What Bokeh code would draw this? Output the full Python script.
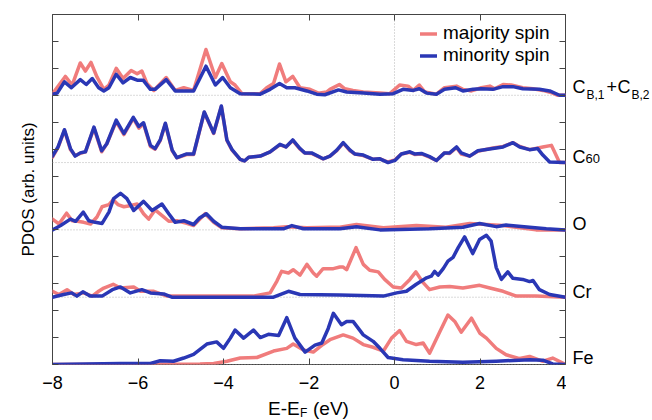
from bokeh.plotting import figure
from bokeh.layouts import row, column
from bokeh.models import (Range1d, FixedTicker, LinearAxis, Span, Legend,
                          LegendItem, CustomJSTickFormatter, ColumnDataSource)
from bokeh.core.properties import value
from bokeh.embed import file_html
from bokeh.resources import INLINE

# ---------------- data (energy in eV, PDOS in arb. units) ----------------
x_ticks = [-8, -6, -4, -2, 0, 2, 4]
y_ticks = [0, 0.5, 1, 1.5, 2, 2.5, 3, 3.5, 4, 4.5, 5, 5.5, 6, 6.5]
fermi_level = 0.0
panel_names = ["Fe", "Cr", "O", "C60", "CB1+CB2"]
panel_offsets = [0.0, 1.25, 2.5, 3.75, 5.0]

# Fe
fe_maj_E = [-8.0, -4.55, -4.23, -3.92, -3.61, -3.22, -2.83, -2.52, -2.37, -2.13, -1.90, -1.71, -1.51, -1.20,
            -0.97, -0.73, -0.50, -0.26, -0.07, 0.12, 0.28, 0.51, 0.67, 0.82, 1.06, 1.25, 1.41, 1.56, 1.80,
            2.00, 2.15, 2.38, 2.61, 2.93, 3.16, 3.47, 3.70, 4.0]
fe_maj = [0.0, 0.01, 0.02, 0.06, 0.12, 0.13, 0.25, 0.30, 0.38, 0.27, 0.23, 0.35, 0.46, 0.55,
          0.49, 0.37, 0.32, 0.25, 0.49, 0.63, 0.43, 0.37, 0.40, 0.21, 0.61, 0.92, 0.80, 0.60, 0.86,
          0.58, 0.49, 0.30, 0.18, 0.11, 0.15, 0.06, 0.12, 0.0]
fe_min_E = [-8.0, -6.41, -5.71, -5.48, -5.17, -4.93, -4.70, -4.39, -4.16, -4.00, -3.84, -3.73, -3.53, -3.30,
            -3.14, -2.95, -2.71, -2.52, -2.33, -2.09, -1.86, -1.70, -1.55, -1.43, -1.24, -1.12, -0.97,
            -0.73, -0.50, -0.34, -0.15, 0.20, 0.82, 1.60, 2.38, 3.16, 3.47, 3.70, 4.0]
fe_min = [0.0, 0.02, 0.02, 0.07, 0.06, 0.12, 0.19, 0.38, 0.42, 0.30, 0.49, 0.64, 0.49, 0.64,
          0.50, 0.56, 0.54, 0.87, 0.49, 0.23, 0.36, 0.40, 0.67, 0.95, 0.74, 0.80, 0.80,
          0.55, 0.43, 0.30, 0.13, 0.09, 0.06, 0.04, 0.06, 0.09, 0.08, 0.01, 0.0]

# Cr
cr_maj_E = [-8.0, -7.85, -7.66, -7.50, -7.27, -7.07, -6.92, -6.80, -6.58, -6.41, -6.10, -5.94, -5.63, -5.32,
            -3.30, -2.91, -2.75, -2.64, -2.48, -2.37, -2.21, -2.05, -1.90, -1.82, -1.67, -1.43, -1.28,
            -1.20, -1.12, -0.90, -0.73, -0.58, -0.38, -0.23, -0.03, 0.16, 0.36, 0.50, 0.67, 0.82, 1.06,
            1.29, 1.60, 1.99, 2.23, 2.54, 2.85, 3.31, 4.0]
cr_maj = [0.11, 0.05, 0.14, 0.05, 0.08, 0.02, 0.11, 0.17, 0.24, 0.17, 0.19, 0.11, 0.11, 0.02,
          0.02, 0.08, 0.30, 0.48, 0.45, 0.51, 0.41, 0.61, 0.45, 0.39, 0.53, 0.53, 0.56,
          0.56, 0.51, 0.92, 0.61, 0.50, 0.47, 0.33, 0.19, 0.17, 0.33, 0.47, 0.27, 0.14, 0.19,
          0.20, 0.17, 0.22, 0.17, 0.11, 0.02, 0.02, 0.0]
cr_min_E = [-8.0, -7.74, -7.55, -7.43, -7.29, -7.12, -6.84, -6.60, -6.41, -6.18, -5.91, -5.71, -5.40, -5.21,
            -2.83, -2.48, -2.21, -1.28, -0.26, 0.05, 0.28, 0.51, 0.75, 0.86, 0.94, 1.02, 1.14, 1.25,
            1.37, 1.49, 1.64, 1.83, 1.99, 2.15, 2.26, 2.38, 2.50, 2.65, 2.77, 3.00, 3.16, 3.24, 3.39,
            3.63, 4.0]
cr_min = [0.0, 0.05, 0.08, 0.02, 0.10, 0.02, 0.02, 0.14, 0.19, 0.08, 0.14, 0.08, 0.06, 0.0,
          0.0, 0.11, 0.05, 0.04, 0.02, 0.08, 0.11, 0.24, 0.36, 0.39, 0.48, 0.41, 0.53, 0.67,
          0.74, 0.92, 1.12, 0.81, 1.07, 1.15, 1.04, 0.55, 0.33, 0.47, 0.35, 0.33, 0.29, 0.31, 0.14,
          0.05, 0.0]

# O
o_maj_E = [-8.0, -7.85, -7.67, -7.54, -7.42, -7.27, -7.11, -6.96, -6.84, -6.68, -6.58, -6.47, -6.33, -6.19,
           -6.02, -5.87, -5.75, -5.60, -5.40, -5.28, -5.09, -4.86, -4.70, -4.43, -4.23, -4.04, -3.61,
           -2.83, -2.52, -2.05, -1.51, -1.28, -0.89, -0.26, 0.51, 1.20, 1.76, 2.54, 3.31, 4.0]
o_maj = [0.20, 0.11, 0.31, 0.17, 0.16, 0.14, 0.11, 0.24, 0.43, 0.47, 0.56, 0.47, 0.43, 0.45,
         0.48, 0.30, 0.20, 0.37, 0.24, 0.16, 0.17, 0.12, 0.08, 0.30, 0.14, 0.04, 0.02,
         0.04, 0.06, 0.04, 0.05, 0.05, 0.10, 0.04, 0.08, 0.05, 0.12, 0.08, 0.0, 0.0]
o_min_E = [-8.0, -7.81, -7.58, -7.46, -7.28, -7.15, -7.00, -6.84, -6.68, -6.57, -6.41, -6.26, -6.10, -5.87,
           -5.67, -5.44, -5.28, -5.13, -4.93, -4.70, -4.56, -4.40, -4.23, -4.04, -3.61, -2.60, -2.40,
           -2.13, -1.28, -0.89, -0.34, 0.82, 1.60, 1.99, 2.38, 2.61, 3.16, 3.55, 4.0]
o_min = [0.0, 0.08, 0.20, 0.16, 0.33, 0.17, 0.14, 0.12, 0.33, 0.58, 0.68, 0.58, 0.36, 0.53,
         0.36, 0.48, 0.30, 0.14, 0.17, 0.10, 0.22, 0.30, 0.16, 0.05, 0.02, 0.02, 0.08,
         0.02, 0.02, 0.06, 0.0, 0.02, 0.05, 0.12, 0.06, 0.09, 0.05, 0.02, 0.0]

# C60
c60_min_E = [-8.0, -7.87, -7.72, -7.58, -7.47, -7.35, -7.23, -7.03, -6.85, -6.73, -6.51, -6.33, -6.11, -5.98,
             -5.87, -5.71, -5.60, -5.48, -5.36, -5.20, -5.09, -4.86, -4.70, -4.45, -4.23, -4.05, -3.92,
             -3.80, -3.61, -3.51, -3.41, -3.14, -2.91, -2.68, -2.54, -2.38, -2.21, -2.10, -1.94, -1.67,
             -1.51, -1.35, -1.20, -1.04, -0.93, -0.73, -0.50, -0.34, -0.15, 0.01, 0.16, 0.36, 0.47,
             0.63, 0.82, 0.98, 1.17, 1.29, 1.45, 1.56, 1.76, 1.95, 2.30, 2.54, 2.77, 2.93, 3.16, 3.35,
             3.47, 3.63, 4.0]
c60_min = [0.12, 0.29, 0.61, 0.26, 0.12, 0.18, 0.20, 0.66, 0.22, 0.35, 0.79, 0.54, 0.84, 0.67,
           0.74, 0.32, 0.26, 0.42, 0.73, 0.23, 0.09, 0.16, 0.16, 0.94, 0.55, 1.05, 0.42,
           0.24, 0.06, 0.03, 0.10, 0.12, 0.20, 0.34, 0.29, 0.42, 0.26, 0.18, 0.18, 0.07,
           0.12, 0.23, 0.37, 0.23, 0.16, 0.14, 0.06, 0.07, 0.0, 0.04, 0.16, 0.20, 0.16,
           0.17, 0.11, 0.04, 0.18, 0.18, 0.29, 0.18, 0.12, 0.22, 0.26, 0.29, 0.37, 0.29, 0.24, 0.26,
           0.14, 0.01, 0.0]
c60_maj_E = [-8.0, -7.87, -7.72, -7.58, -7.47, -7.35, -7.23, -7.03, -6.85, -6.73, -6.51, -6.33, -6.11, -5.98,
             -5.87, -5.71, -5.60, -5.48, -5.36, -5.20, -5.09, -4.86, -4.70, -4.45, -4.23, -4.05, -3.92,
             -3.80, -3.61, -3.51, -3.41, -3.14, -2.91, -2.68, -2.54, -2.38, -2.21, -2.10, -1.94, -1.67,
             -1.51, -1.35, -1.20, -1.04, -0.93, -0.73, -0.50, -0.34, -0.15, 0.01, 0.16, 0.36, 0.47,
             0.63, 0.82, 0.98, 1.17, 1.29, 1.45, 1.56, 1.76, 1.95, 2.30, 2.54, 2.77, 2.93, 3.16, 3.47,
             3.67, 3.86, 4.0]
c60_maj = [0.10, 0.28, 0.60, 0.24, 0.13, 0.17, 0.20, 0.64, 0.20, 0.35, 0.76, 0.52, 0.82, 0.64,
           0.72, 0.30, 0.25, 0.41, 0.72, 0.22, 0.09, 0.15, 0.15, 0.93, 0.54, 1.04, 0.41,
           0.23, 0.06, 0.03, 0.10, 0.12, 0.20, 0.33, 0.29, 0.41, 0.25, 0.18, 0.17, 0.07,
           0.12, 0.22, 0.36, 0.22, 0.16, 0.13, 0.06, 0.07, 0.01, 0.05, 0.16, 0.19, 0.15,
           0.16, 0.10, 0.04, 0.18, 0.17, 0.28, 0.16, 0.12, 0.21, 0.27, 0.30, 0.37, 0.30, 0.24, 0.29,
           0.32, 0.0, 0.0]

# C_B,1 + C_B,2
cb_maj_E = [-8.0, -7.70, -7.54, -7.35, -7.23, -7.10, -6.96, -6.80, -6.68, -6.51, -6.35, -6.16, -6.02, -5.91,
            -5.79, -5.63, -5.34, -5.13, -4.93, -4.70, -4.41, -4.19, -4.04, -3.84, -3.73, -3.57, -3.14,
            -2.99, -2.83, -2.69, -2.54, -2.38, -2.21, -1.98, -1.78, -1.59, -1.51, -1.29, -1.16, -0.97,
            -0.73, -0.34, -0.11, 0.12, 0.32, 0.44, 0.58, 0.71, 0.98, 1.17, 1.45, 1.60, 1.80, 2.03,
            2.23, 2.34, 2.54, 2.73, 3.00, 3.24, 3.47, 3.70, 3.82, 4.0]
cb_maj = [0.03, 0.35, 0.19, 0.60, 0.45, 0.61, 0.34, 0.11, 0.19, 0.50, 0.31, 0.46, 0.40, 0.45,
          0.22, 0.09, 0.33, 0.09, 0.14, 0.09, 0.85, 0.33, 0.59, 0.25, 0.19, 0.03, 0.03,
          0.14, 0.22, 0.58, 0.25, 0.35, 0.14, 0.11, 0.04, 0.06, 0.11, 0.20, 0.12, 0.09,
          0.06, 0.04, 0.03, 0.19, 0.17, 0.09, 0.19, 0.06, 0.02, 0.14, 0.17, 0.11, 0.08, 0.14,
          0.17, 0.12, 0.20, 0.19, 0.14, 0.12, 0.09, 0.04, 0.0, 0.0]
cb_min_E = [-8.0, -7.89, -7.72, -7.56, -7.35, -7.21, -7.07, -6.92, -6.80, -6.68, -6.51, -6.35, -6.18, -6.02,
            -5.88, -5.71, -5.60, -5.34, -5.13, -4.70, -4.41, -4.19, -4.02, -3.84, -3.61, -3.14, -2.91,
            -2.69, -2.52, -2.33, -2.05, -1.82, -1.63, -1.31, -1.12, -0.73, -0.34, -0.03, 0.20, 0.44,
            0.58, 0.75, 0.98, 1.17, 1.43, 1.60, 1.84, 2.03, 2.30, 2.54, 2.77, 3.00, 3.39, 3.63, 3.86, 4.0]
cb_min = [0.02, 0.04, 0.25, 0.14, 0.29, 0.20, 0.31, 0.14, 0.08, 0.14, 0.39, 0.23, 0.33, 0.28,
          0.28, 0.11, 0.11, 0.29, 0.08, 0.08, 0.54, 0.19, 0.33, 0.14, 0.03, 0.02, 0.11,
          0.22, 0.14, 0.14, 0.08, 0.02, 0.01, 0.10, 0.06, 0.04, 0.02, 0.03, 0.11, 0.09,
          0.12, 0.04, 0.02, 0.11, 0.14, 0.08, 0.11, 0.12, 0.11, 0.16, 0.16, 0.12, 0.11, 0.08, 0.0, 0.0]

series_maj = [(fe_maj_E, fe_maj), (cr_maj_E, cr_maj), (o_maj_E, o_maj), (c60_maj_E, c60_maj), (cb_maj_E, cb_maj)]
series_min = [(fe_min_E, fe_min), (cr_min_E, cr_min), (o_min_E, o_min), (c60_min_E, c60_min), (cb_min_E, cb_min)]

# ---------------- styling ----------------
MAJ_COLOR = "#F07C7C"
MIN_COLOR = "#2A37B5"
FONT = "Liberation Sans"
AX_COLOR = "#444444"

x0, x1 = x_ticks[0], x_ticks[-1]
y0, y1 = y_ticks[0], y_ticks[-1]

MAIN_W, MAIN_H, SIDE_W, BOT_H = 566, 398, 86, 22
B_LEFT, B_TOP, B_BOTTOM = 52, 14, 34

p = figure(width=MAIN_W, height=MAIN_H, output_backend="svg", toolbar_location=None,
           x_range=Range1d(x0, x1), y_range=Range1d(y0, y1),
           min_border_left=B_LEFT, min_border_right=1, min_border_top=B_TOP, min_border_bottom=B_BOTTOM)
p.xgrid.visible = False
p.ygrid.visible = False
p.outline_line_color = AX_COLOR
p.outline_line_width = 1

empty_fmt = CustomJSTickFormatter(code="return ''")

def style_axis(ax, labels=True):
    ax.axis_line_color = None
    ax.major_tick_in = 6
    ax.major_tick_out = 0
    ax.minor_tick_line_color = None
    ax.major_tick_line_color = AX_COLOR
    ax.major_tick_line_width = 1
    if not labels:
        ax.formatter = empty_fmt
        ax.major_label_text_font_size = "0px"
        ax.major_label_standoff = 0

xa = p.xaxis[0]
xa.ticker = FixedTicker(ticks=x_ticks)
style_axis(xa)
xa.major_label_text_font = FONT
xa.major_label_text_font_size = "18px"
xa.major_label_text_color = "black"
xa.major_label_standoff = 11

ya = p.yaxis[0]
ya.ticker = FixedTicker(ticks=y_ticks)
style_axis(ya, labels=False)
ya.axis_label = "PDOS (arb. units)"
ya.axis_label_text_font = FONT
ya.axis_label_text_font_size = "17px"
ya.axis_label_text_font_style = "normal"
ya.axis_label_text_color = "black"
ya.axis_label_standoff = 15

top_ax = LinearAxis(ticker=FixedTicker(ticks=x_ticks))
style_axis(top_ax, labels=False)
p.add_layout(top_ax, "above")
right_ax = LinearAxis(ticker=FixedTicker(ticks=y_ticks))
style_axis(right_ax, labels=False)
p.add_layout(right_ax, "right")

for off in panel_offsets:
    p.add_layout(Span(location=off, dimension="width", line_color="#b5b5b5",
                      line_dash="1 2", line_width=1, level="underlay"))
p.add_layout(Span(location=fermi_level, dimension="height", line_color="#b5b5b5",
                  line_dash="1 2", line_width=1, level="underlay"))

maj_rs, min_rs = [], []
for (E, v), off in zip(series_maj, panel_offsets):
    maj_rs.append(p.line(E, [val + off for val in v], line_color=MAJ_COLOR, line_width=3.5,
                         line_join="round", line_cap="round"))
for (E, v), off in zip(series_min, panel_offsets):
    min_rs.append(p.line(E, [val + off for val in v], line_color=MIN_COLOR, line_width=3.5,
                         line_join="round", line_cap="round"))

legend = Legend(items=[LegendItem(label="majority spin", renderers=[maj_rs[0]]),
                       LegendItem(label="minority spin", renderers=[min_rs[0]])],
                location=(368, 298), border_line_color=None, background_fill_alpha=0,
                label_text_font=FONT, label_text_font_size="19px", label_text_color="black",
                glyph_width=17, glyph_height=19, label_height=19, spacing=-3,
                padding=0, margin=0, label_standoff=6)
p.add_layout(legend)

def bare(fig):
    fig.xaxis.visible = False
    fig.yaxis.visible = False
    fig.xgrid.visible = False
    fig.ygrid.visible = False
    fig.outline_line_color = None

# ---- right-hand panel names (own figure; frame aligned with the main frame, shared y range)
side = figure(width=SIDE_W, height=MAIN_H, output_backend="svg", toolbar_location=None,
              x_range=Range1d(0, SIDE_W), y_range=p.y_range,
              min_border_left=0, min_border_right=0, min_border_top=B_TOP, min_border_bottom=B_BOTTOM)
bare(side)
side_src = ColumnDataSource(dict(
    x=[6, 6, 6, 6, 19, 6, 20, 40, 51, 65],
    y=[panel_offsets[0], panel_offsets[1], panel_offsets[2], panel_offsets[3], panel_offsets[3],
       panel_offsets[4], panel_offsets[4], panel_offsets[4], panel_offsets[4], panel_offsets[4]],
    text=["Fe", "Cr", "O", "C", "60", "C", "B,1", "+", "C", "B,2"],
    fs=["18px", "18px", "18px", "18px", "13px", "18px", "12px", "18px", "18px", "12px"],
    dy=[-6.5, -5.5, -5.5, -6, -4.5, -8.5, -0.5, -8.5, -8.5, -0.5],
))
side.text(x="x", y="y", text="text", y_offset="dy", text_font_size="fs", source=side_src,
          text_font=value(FONT), text_color="black", text_align=value("left"),
          text_baseline=value("middle"))

# ---- x-axis title with subscript (own strip under the main figure)
bottom = figure(width=MAIN_W + SIDE_W, height=BOT_H, output_backend="svg", toolbar_location=None,
                x_range=p.x_range, y_range=Range1d(0, BOT_H),
                min_border_left=B_LEFT, min_border_right=SIDE_W + 1, min_border_top=0, min_border_bottom=0)
bare(bottom)
xmid = (x0 + x1) / 2
bot_src = ColumnDataSource(dict(
    x=[xmid, xmid, xmid],
    y=[12, 12, 12],
    text=["E-E", "F", "(eV)"],
    fs=["19px", "12px", "19px"],
    dx=[-41, -9, 4],
    dy=[0, 4.5, 0],
))
bottom.text(x="x", y="y", text="text", x_offset="dx", y_offset="dy", text_font_size="fs",
            source=bot_src, text_font=value(FONT), text_color="black", text_align=value("left"),
            text_baseline=value("middle"))

layout = column(row(p, side, spacing=0), bottom, spacing=0)
open("out.html", "w").write(file_html(layout, INLINE))
